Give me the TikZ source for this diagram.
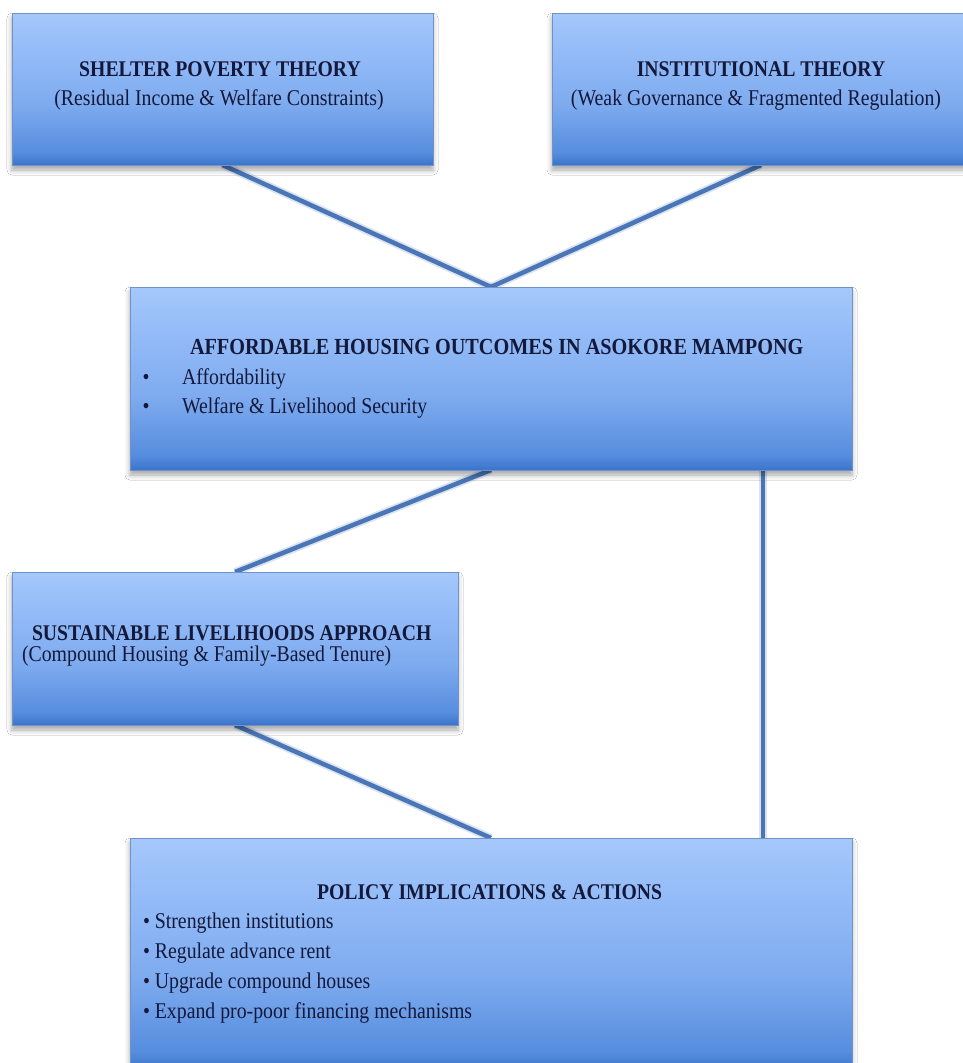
\documentclass[tikz,border=0pt]{standalone}
\usepackage{fontspec}
\setmainfont{Liberation Serif}[FakeStretch=0.88]
\usetikzlibrary{shadows.blur,backgrounds}
\definecolor{gtop}{RGB}{165,200,252}
\definecolor{gup}{RGB}{147,187,247}
\definecolor{gmid}{RGB}{126,171,239}
\definecolor{glow}{RGB}{86,141,222}
\definecolor{gbot}{RGB}{58,116,202}
\definecolor{conncol}{RGB}{74,118,184}
\definecolor{boxline}{RGB}{112,146,200}
\definecolor{ink}{RGB}{20,24,58}
\pgfdeclareverticalshading{boxgrad}{100bp}{color(0bp)=(gbot); color(25bp)=(gbot); color(29bp)=(glow); color(45bp)=(gmid); color(62bp)=(gup); color(75bp)=(gtop); color(100bp)=(gtop)}
\begin{document}
\begin{tikzpicture}[x=1pt,y=-1pt,
  box/.style={rectangle, draw=boxline, line width=0.8pt, shading=boxgrad,
    inner sep=0pt, outer sep=0pt,
    blur shadow={shadow xshift=0pt, shadow yshift=-5pt, shadow blur radius=5pt, shadow opacity=35}},
  txt/.style={inner sep=0pt, outer sep=0pt, text=ink, font=\fontsize{22.5}{26}\selectfont},
  ttl/.style={inner sep=0pt, outer sep=0pt, text=ink, font=\fontsize{22.4}{26}\selectfont\bfseries},
  conn/.style={draw=conncol, line width=4.5pt,
    preaction={draw=conncol, line width=8pt, opacity=0.2}}]
\useasboundingbox (0,0) rectangle (963,1063);

% boxes
\node[box, minimum width=421pt, minimum height=152pt] (b1) at (222.5,89) {};
\node[box, minimum width=418pt, minimum height=152pt] (b2) at (761,89) {};
\node[box, minimum width=722pt, minimum height=183pt] (b3) at (491,378.5) {};
\node[box, minimum width=446pt, minimum height=153pt] (b4) at (235,648.5) {};
\node[box, minimum width=722pt, minimum height=232pt] (b5) at (491,954) {};

% texts
\node[ttl, anchor=base] (t1) at (220,76) {SHELTER POVERTY THEORY};
\node[txt, anchor=base] (s1) at (219,105) {(Residual Income \& Welfare Constraints)};
\node[ttl, anchor=base] (t2) at (761,76) {INSTITUTIONAL THEORY};
\node[txt, anchor=base] (s2) at (756,105) {(Weak Governance \& Fragmented Regulation)};

\node[ttl, anchor=base west, font=\fontsize{23}{26}\selectfont\bfseries] (t3) at (190,354) {AFFORDABLE HOUSING OUTCOMES IN ASOKORE MAMPONG};
\node[txt, anchor=base] (d31) at (146,384) {\textbullet};
\node[txt, anchor=base west] (i31) at (182,384) {Affordability};
\node[txt, anchor=base] (d32) at (146,413) {\textbullet};
\node[txt, anchor=base west] (i32) at (182,413) {Welfare \& Livelihood Security};

\node[ttl, anchor=base west] (t4) at (32,640) {SUSTAINABLE LIVELIHOODS APPROACH};
\node[txt, anchor=base west] (s4) at (22,661) {(Compound Housing \& Family-Based Tenure)};

\node[ttl, anchor=base west] (t5) at (317,899) {POLICY IMPLICATIONS \& ACTIONS};
\node[txt, anchor=base west] (i51) at (143,928) {\textbullet{} Strengthen institutions};
\node[txt, anchor=base west] (i52) at (143,958) {\textbullet{} Regulate advance rent};
\node[txt, anchor=base west] (i53) at (143,988) {\textbullet{} Upgrade compound houses};
\node[txt, anchor=base west] (i54) at (143,1018) {\textbullet{} Expand pro-poor financing mechanisms};

\coordinate (vx) at (763,0);
\begin{scope}[on background layer]
  \fill[white] (0,0) rectangle (963,1063);
  \draw[conn] (b1.south) -- (b3.north);
  \draw[conn] (b2.south) -- (b3.north);
  \draw[conn] (b3.south) -- (b4.north);
  \draw[conn] (b4.south) -- (b5.north);
  \draw[conn] (b3.south -| vx) -- (b5.north -| vx);
\end{scope}
\end{tikzpicture}
\end{document}
